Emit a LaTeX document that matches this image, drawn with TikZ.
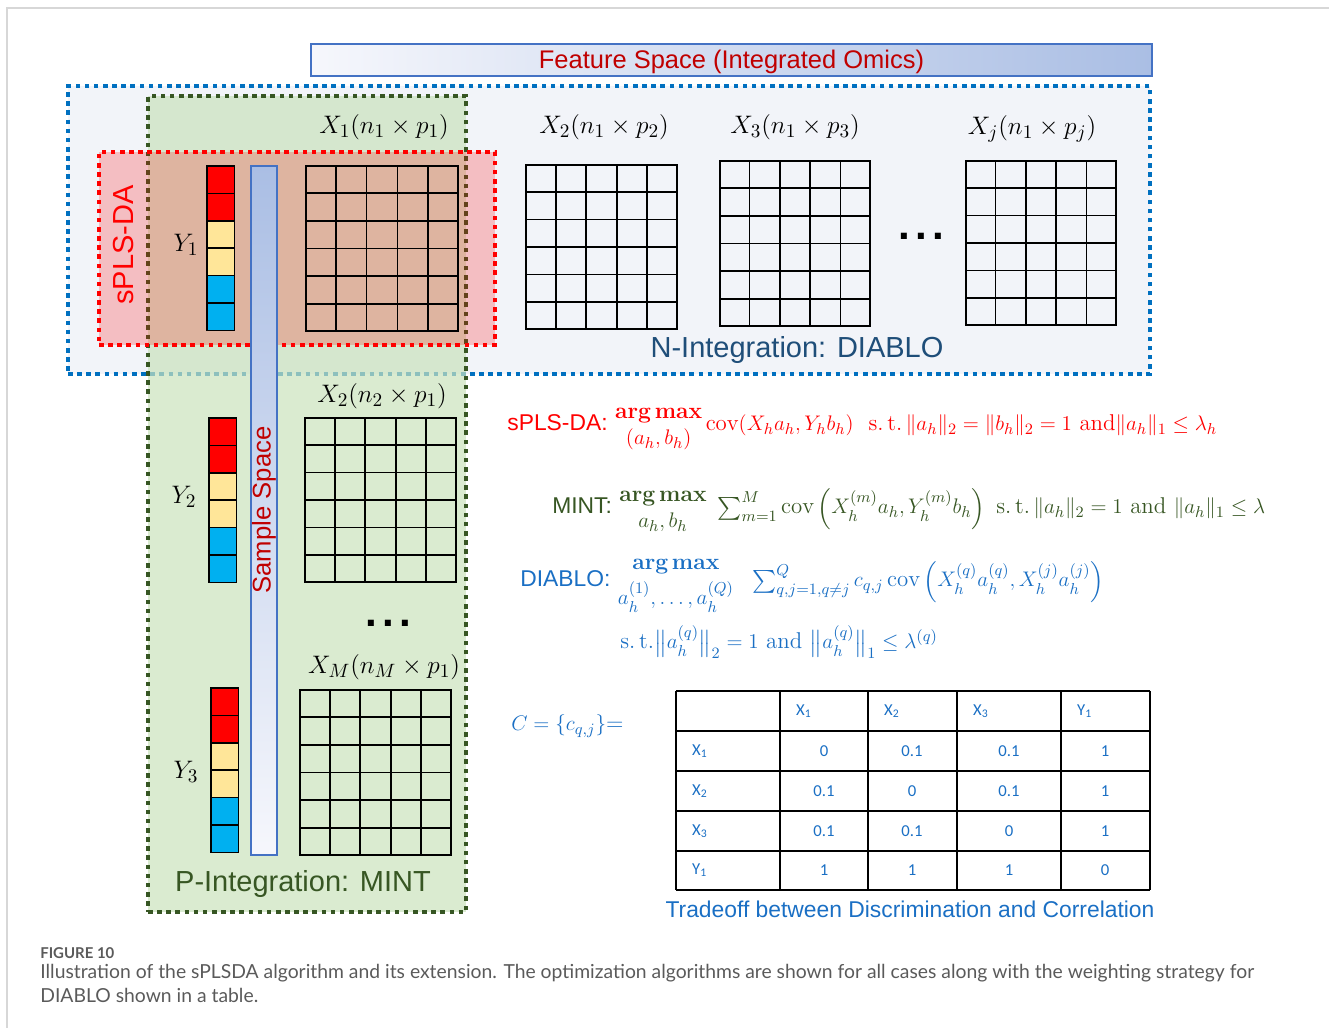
\documentclass[tikz,border=0pt]{standalone}
\usepackage{amsmath,amssymb}
\usepackage{fontspec}
\newfontfamily\arialfont{Liberation Sans}
\newfontfamily\calfont{Carlito}
\newfontfamily\capfont{Lato}
\usetikzlibrary{positioning,calc,fit,shadings}
\definecolor{frameg}{RGB}{215,215,215}
\definecolor{diabloblue}{RGB}{0,112,192}
\definecolor{nfill}{RGB}{242,244,249}
\definecolor{mintgreen}{RGB}{55,86,35}
\definecolor{mintfill}{RGB}{202,226,188}
\definecolor{splsred}{RGB}{255,0,0}
\definecolor{darkred}{RGB}{192,0,0}
\definecolor{barblue}{RGB}{68,114,196}
\definecolor{barlight}{RGB}{170,190,228}
\definecolor{barpale}{RGB}{246,247,252}
\definecolor{ylw}{RGB}{255,230,153}
\definecolor{cyn}{RGB}{0,176,240}
\definecolor{navy}{RGB}{31,78,121}
\definecolor{formblue}{RGB}{26,111,196}
\definecolor{capgrey}{RGB}{90,90,90}
\tikzset{
    region/.style={draw=#1, line width=2.8pt, dash pattern=on 2.6pt off 2.6pt,
                   inner sep=0pt},
    datamat/.style={draw=black, line width=0.9pt, inner sep=0pt},
    gridln/.style={black, line width=0.9pt},
    barcell/.style={draw=black, line width=0.9pt},
    tabline/.style={black, line width=1.1pt},
    matlabel/.style={font=\fontsize{15.5}{18}\selectfont},
    sanslabel/.style={font=\arialfont\fontsize{#1}{#1}\selectfont},
    formula/.style={font=\fontsize{13}{16}\selectfont, anchor=base west,
                    inner sep=0pt},
    tabtext/.style={font=\calfont\fontsize{9.5}{11}\selectfont, text=formblue},
}
\newcommand{\datagrid}[5]{% name, left, top, right, bottom
  \node[datamat, fit={(#2,#3) (#4,#5)}] (#1) {};
  \foreach \i in {1,...,4}
    \draw[gridln] ($(#1.north west)!\i/5!(#1.north east)$)
               -- ($(#1.south west)!\i/5!(#1.south east)$);
  \foreach \i in {1,...,5}
    \draw[gridln] ($(#1.north west)!\i/6!(#1.south west)$)
               -- ($(#1.north east)!\i/6!(#1.south east)$);
}
\newcommand{\classbar}[2]{% left, top
  \foreach \c [count=\k from 0] in {splsred,splsred,ylw,ylw,cyn,cyn}
    \draw[barcell, fill=\c] (#1,#2+\k*27.4) rectangle ++(27.5,27.4);
}
\newcommand{\argstack}[2][-1pt]{\begin{array}{@{}c@{}}\textbf{arg\,max}\\[#1] #2\end{array}}

\begin{document}
\begin{tikzpicture}[x=0.2mm, y=-0.2mm]
    \useasboundingbox (0,0) rectangle (1329,1028);
    \draw[frameg, line width=0.8pt] (1329,8) -- (7,8) -- (7,1028);

    % banner
    \node[draw=barblue, line width=1pt, inner sep=0pt, left color=barpale,
          right color=barlight, fit={(311,44) (1152,76)}] (featbar) {};
    \node[sanslabel=14.5, text=darkred] (feattitle) at ([yshift=-0.3mm]featbar.center)
        {Feature Space (Integrated Omics)};

    % integration regions
    \node[region=diabloblue, fill=nfill, fit={(68,86) (1150,374)}] (nint) {};
    \node[region=mintgreen, fill=mintfill, fill opacity=0.7,
          fit={(148,96) (466,912)}] (pint) {};
    \node[region=splsred, fill=splsred, fill opacity=0.22,
          fit={(99,152) (495,345)}] (spls) {};

    % sample space
    \node[draw=barblue, line width=0.8pt, inner sep=0pt, top color=barlight,
          bottom color=barpale, fit={(251,166) (277,855)}] (sbar) {};
    \node[sanslabel=14.6, text=darkred, rotate=90] (stitle) at (264,510) {Sample Space};
    \node[sanslabel=16.5, text=splsred, rotate=90] (splstitle) at (124,245) {sPLS-DA};

    % data blocks
    \datagrid{xone}{306}{166}{458}{331}
    \datagrid{xtwo}{526}{165}{677}{329}
    \datagrid{xthree}{720}{161}{870}{326}
    \datagrid{xj}{966}{161}{1116}{325}
    \datagrid{xtwob}{305}{418}{456}{582}
    \datagrid{xm}{300}{690}{451}{855}
    \classbar{207}{166}
    \classbar{209}{418}
    \classbar{211}{688}

    \node[matlabel] (xonel) at (384,127) {$X_1(n_1\times p_1)$};
    \node[matlabel] (xtwol) at (604,127) {$X_2(n_1\times p_2)$};
    \node[matlabel] (xthreel) at (795,127) {$X_3(n_1\times p_3)$};
    \node[matlabel] (xjl) at (1032,129) {$X_j(n_1\times p_j)$};
    \node[matlabel] (xtwobl) at (382,396) {$X_2(n_2\times p_1)$};
    \node[matlabel] (xml) at (384,667) {$X_M(n_M\times p_1)$};
    \node[matlabel] (yone) at (186,245) {$Y_1$};
    \node[matlabel] (ytwo) at (184,497) {$Y_2$};
    \node[matlabel] (ythree) at (186,772) {$Y_3$};
    \node[font=\arialfont\bfseries\fontsize{24}{24}\selectfont] (hdots) at (921,236) {.\kern3pt.\kern3pt.};
    \node[font=\arialfont\bfseries\fontsize{24}{24}\selectfont] (vdots) at (388,623) {.\kern3pt.\kern3pt.};

    \node[sanslabel=16.5, text=navy] (nintl) at (797,350) {N-Integration: DIABLO};
    \node[sanslabel=16.5, text=mintgreen] (pintl) at (303,884) {P-Integration: MINT};

    % objectives
    \node[formula, text=splsred] (fspls) at (507,431)
        {{\arialfont sPLS-DA:} $\argstack{(a_h,b_h)}\operatorname{cov}(X_ha_h,Y_hb_h)\ \ \text{s.\,t.}\,\|a_h\|_2=\|b_h\|_2=1\ \text{and}\|a_h\|_1\le\lambda_h$};
    \node[formula, text=mintgreen] (fmint) at (552,514)
        {{\arialfont MINT:} $\argstack{a_h,b_h}\ \sum_{m=1}^{M}\operatorname{cov}\left(X_h^{(m)}a_h,Y_h^{(m)}b_h\right)\ \text{s.\,t.}\,\|a_h\|_2=1\text{ and }\|a_h\|_1\le\lambda$};
    \node[formula, text=formblue] (fdiablo) at (520,587)
        {{\arialfont DIABLO:} $\argstack[2pt]{a_h^{(1)},\dots,a_h^{(Q)}}\ \ \sum_{q,j=1,q\neq j}^{Q}c_{q,j}\operatorname{cov}\left(X_h^{(q)}a_h^{(q)},X_h^{(j)}a_h^{(j)}\right)$};
    \node[formula, text=formblue] (fdiablost) at (620,649)
        {$\text{s.\,t.}\bigl\|a_h^{(q)}\bigr\|_2=1\text{ and }\bigl\|a_h^{(q)}\bigr\|_1\le\lambda^{(q)}$};
    \node[formula, text=formblue] (cdef) at (511,731) {$C=\{c_{q,j}\}$=};

    % weighting table
    \foreach \x in {676,780,868,957,1061,1150}
        \draw[tabline] (\x,691) -- (\x,890);
    \foreach \y in {691,731,771,811,851,890}
        \draw[tabline] (676,\y) -- (1150,\y);
    \foreach \h [count=\k] in {X\textsubscript{1},X\textsubscript{2},X\textsubscript{3},Y\textsubscript{1}}
        \node[tabtext, anchor=west] (th\k) at ({\k==1 ? 790 : (\k==2 ? 878 : (\k==3 ? 967 : 1071))},711) {\h};
    \foreach \r/\lab/\va/\vb/\vc/\vd [count=\k] in
        {751/X\textsubscript{1}/0/0.1/0.1/1, 791/X\textsubscript{2}/0.1/0/0.1/1,
         831/X\textsubscript{3}/0.1/0.1/0/1, 870/Y\textsubscript{1}/1/1/1/0} {
        \node[tabtext, anchor=west] (tr\k) at (686,\r) {\lab};
        \node[tabtext] (ta\k) at (824,\r) {\va};
        \node[tabtext] (tb\k) at (912,\r) {\vb};
        \node[tabtext] (tc\k) at (1009,\r) {\vc};
        \node[tabtext] (td\k) at (1105,\r) {\vd};
    }
    \node[sanslabel=13, text=formblue] (tradeoff) at (910,909)
        {Tradeoff between Discrimination and Correlation};

    % caption
    \node[anchor=west, inner sep=0pt, text=capgrey,
          font=\capfont\bfseries\fontsize{8.5}{10}\selectfont] (fignum) at (40,953) {FIGURE 10};
    \node[anchor=north west, inner sep=0pt, text=capgrey, align=left,
          font=\capfont\fontsize{11}{13.7}\selectfont] (capbody) at (40,964)
        {Illustration of the sPLSDA algorithm and its extension. The optimization algorithms are shown for all cases along with the weighting strategy for\\
         DIABLO shown in a table.};
\end{tikzpicture}
\end{document}
